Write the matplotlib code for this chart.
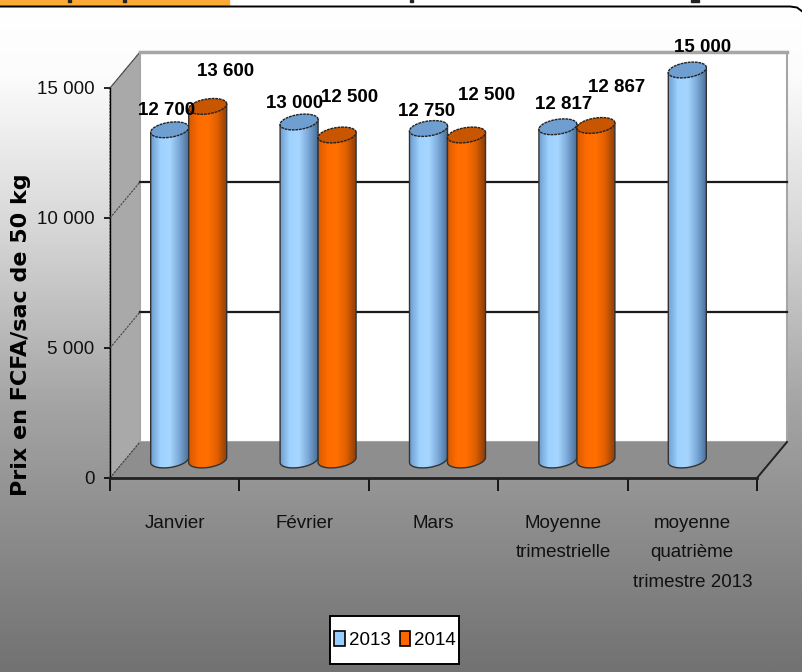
import numpy as np
import matplotlib
matplotlib.use("Agg")
import matplotlib.pyplot as plt
from matplotlib.patches import Polygon, Rectangle
from matplotlib.colors import LinearSegmentedColormap

plt.rcParams['font.family'] = ['Liberation Sans', 'DejaVu Sans']

categories = ['Janvier', 'Février', 'Mars', 'Moyenne\ntrimestrielle',
              'moyenne\nquatrième\ntrimestre 2013']
values_2013 = [12700, 13000, 12750, 12817, 15000]
values_2014 = [13600, 12500, 12500, 12867, None]
labels_2013 = ['12 700', '13 000', '12 750', '12 817', '15 000']
labels_2014 = ['13 600', '12 500', '12 500', '12 867', '']
y_ticks = [0, 5000, 10000, 15000]
y_labels = ['0', '5 000', '10 000', '15 000']

# label offsets from the cylinder top, pixels
off_2013 = [(-3, 19), (-5, 19), (-2, 17), (6, 22), (15, 23)]
off_2014 = [(18, 35), (12, 37), (20, 39), (21, 38), (0, 0)]

W, H = 803, 672
# front plane of the 3D box, in pixels
X0, X1 = 110, 757
Y0, Y15 = 478, 88
DEPTH_X, DEPTH_Y = 30, 36
BASE = 18

fig = plt.figure(figsize=(W / 100, H / 100), dpi=100)

# background
bg = fig.add_axes([0, 0, 1, 1])
bg.set_xlim(0, W)
bg.set_ylim(H, 0)
bg.axis('off')
grad = np.linspace(0, 1, 300).reshape(-1, 1)
cm = LinearSegmentedColormap.from_list('bg', [(0, '#ffffff'), (0.1, '#fcfcfc'), (0.35, '#d4d4d4'),
                                              (0.6, '#a4a4a4'), (1, '#727272')])
bg.imshow(grad, cmap=cm, extent=[0, W, H, 6], aspect='auto', zorder=0)
bg.add_patch(Rectangle((0, 0), 229, 5.5, color='#fbab35', zorder=1))
bg.plot([0, 790, 797, 803], [6.5, 6.5, 7.5, 12], color='black', lw=1.4, zorder=2)
# what is left of the cropped title
for xm, wm in [(70, 3), (125, 3), (412, 3), (695, 8)]:
    bg.add_patch(Rectangle((xm - wm / 2, 0), wm, 1.8, color='#222222', zorder=3))
# legend box
bg.add_patch(Rectangle((330, 616), 129, 48, fc='white', ec='black', lw=1.4, zorder=3))

ax = fig.add_axes([X0 / W, 1 - Y0 / H, (X1 - X0) / W, (Y0 - Y15) / H])
ax.set_xlim(0, 5)
ax.set_ylim(0, 15000)
ax.patch.set_alpha(0)
for s in ['top', 'right']:
    ax.spines[s].set_visible(False)
ax.spines['left'].set_linewidth(1.0)
ax.spines['bottom'].set_linewidth(2)
ax.spines['bottom'].set_color('#222222')

ux = (X1 - X0) / 5      # px per category
uy = (Y0 - Y15) / 15000 # px per unit
dx, dy = DEPTH_X / ux, DEPTH_Y / uy

# walls
ax.add_patch(Polygon([(0, 0), (dx, dy), (dx, 15000 + dy), (0, 15000)], fc='#a9a9a9', ec='#555555',
                     lw=0.8, ls=(0, (2, 1)), clip_on=False, zorder=1))
ax.add_patch(Rectangle((dx, dy), 5, 15000, fc='white', ec='#a6a6a6', lw=1.5, clip_on=False, zorder=1))
ax.add_patch(Polygon([(0, 0), (5, 0), (5 + dx, dy), (dx, dy)], fc='#8e8e8e', ec='none',
                     clip_on=False, zorder=2))
ax.plot([5, 5 + dx], [0, dy], color='#222222', lw=1.4, clip_on=False, zorder=2)
ax.plot([0, dx], [0, dy], color='#444444', lw=0.8, ls=(0, (2, 1)), clip_on=False, zorder=2)
for v in y_ticks[1:]:
    if v < 15000:
        ax.plot([dx, 5 + dx], [v + dy, v + dy], color='#1a1a1a', lw=1.6, clip_on=False, zorder=3)
    ax.plot([0, dx], [v, v + dy], color='#444444', lw=0.8, ls=(0, (2, 1)), clip_on=False, zorder=3)
ax.plot([dx, 5 + dx], [15000 + dy, 15000 + dy], color='#a6a6a6', lw=2.5, clip_on=False, zorder=3)

ax.set_yticks(y_ticks)
ax.set_yticklabels(y_labels, fontsize=13.5, color='#111111')
ax.set_xticks(range(6))
ax.set_xticklabels([])
ax.tick_params(axis='y', length=4, width=1.2, pad=7)
ax.tick_params(axis='x', length=9, width=1.2, direction='out')

for i, c in enumerate(categories):
    ax.text(i + 0.5, -1420, c, ha='center', va='top', fontsize=13.5, color='#111111',
            linespacing=1.95, clip_on=False)

ax.set_ylabel('Prix en FCFA/sac de 50 kg', fontsize=16, fontweight='bold', color='black',
              family='DejaVu Sans')
ax.yaxis.set_label_coords(-0.122, 0.367)

cyl_blue = LinearSegmentedColormap.from_list('b', ['#6f9fd0', '#9fd2ff', '#a6d6ff', '#7aa8d8', '#4a6f98'])
cyl_orange = LinearSegmentedColormap.from_list('o', ['#d95a00', '#ff6c00', '#ff6f00', '#e05f00', '#8f3f08'])


def cylinder(cx, value, cmap, top_color, z):
    # cx in category units, base sits partway back on the floor
    r = 19 / ux
    ry = 7.5 / uy
    tilt = 2.5 / uy  # ellipse rises to the right
    base = BASE / uy
    top = value + base
    t = np.linspace(0, 2 * np.pi, 80)
    ex = cx + r * np.cos(t)
    ey = ry * np.sin(t) + tilt * np.cos(t)
    low = np.linspace(np.pi, 2 * np.pi, 40)
    xs = np.concatenate([[cx - r], cx + r * np.cos(low), [cx + r]])
    ys = np.concatenate([[top - tilt], base + ry * np.sin(low) + tilt * np.cos(low), [top + tilt]])
    body = Polygon(np.column_stack([xs, ys]), closed=True, fc='none', ec='#333333', lw=1,
                   clip_on=False, zorder=z + 0.2)
    ax.add_patch(body)
    im = ax.imshow(np.linspace(0, 1, 64).reshape(1, -1), cmap=cmap, aspect='auto',
                   extent=[cx - r, cx + r, 0, top + dy], zorder=z)
    im.set_clip_path(body)
    im.set_clip_box(fig.bbox)
    ax.add_patch(Polygon(np.column_stack([ex, top + ey]), closed=True, fc=top_color, ec='#222222', lw=1,
                         ls=(0, (2, 0.6)), clip_on=False, zorder=z + 0.3))
    return top


def bar_label(cx, top, text, off):
    ax.annotate(text, (cx, top), xytext=off, textcoords='offset pixels', ha='center', va='center',
                fontsize=13.5, fontweight='bold', color='black', annotation_clip=False, zorder=10)


offs = (DEPTH_X / 2 - 1) / ux
half = 19 / ux
for i in range(5):
    c = i + 0.5 + offs
    top = cylinder(c - half, values_2013[i], cyl_blue, '#6f9fd0', 5)
    bar_label(c - half, top, labels_2013[i], off_2013[i])
    if values_2014[i] is not None:
        top = cylinder(c + half, values_2014[i], cyl_orange, '#c85500', 6)
        bar_label(c + half, top, labels_2014[i], off_2014[i])
ax.set_xlim(0, 5)
ax.set_ylim(0, 15000)

# legend
h = [Rectangle((0, 0), 1, 1, fc='#99ccff', ec='black', lw=1.2),
     Rectangle((0, 0), 1, 1, fc='#ff6600', ec='black', lw=1.2)]
leg = fig.legend(h, ['2013', '2014'], loc='center', bbox_to_anchor=(395 / W, 1 - 640 / H), ncol=2,
                 fontsize=13.5, frameon=False,
                 handlelength=0.55, handleheight=0.8, handletextpad=0.2, columnspacing=0.5,
                 borderpad=0, borderaxespad=0)

fig.savefig('out.png', dpi=100)
